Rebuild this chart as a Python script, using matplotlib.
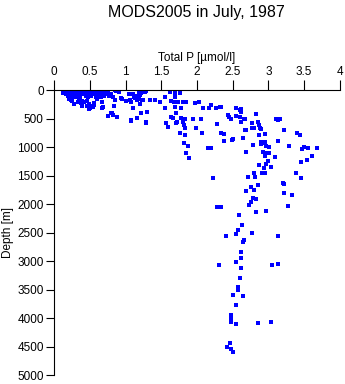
import matplotlib
matplotlib.use("Agg")
import matplotlib.pyplot as plt

plt.rcParams["font.family"] = ["Liberation Sans", "DejaVu Sans"]

TITLE = "MODS2005 in July, 1987"
XLABEL = "Total P [\u00b5mol/l]"
YLABEL = "Depth [m]"

x_ticks = [0, 0.5, 1, 1.5, 2, 2.5, 3, 3.5, 4]
x_tick_labels = ["0", "0.5", "1", "1.5", "2", "2.5", "3", "3.5", "4"]
y_ticks = [0, 500, 1000, 1500, 2000, 2500, 3000, 3500, 4000, 4500, 5000]

# surface layer (0-125 m), densely sampled
surf_p = [0.15, 0.20, 0.25, 0.30, 0.35, 0.40, 0.45, 0.50, 0.55, 0.60, 0.65, 0.70, 0.75,
          0.18, 0.23, 0.28, 0.33, 0.38, 0.43, 0.48, 0.53, 0.58, 0.63, 0.68,
          0.14, 0.17, 0.22, 0.27, 0.32, 0.37, 0.42, 0.47, 0.52, 0.57, 0.62, 0.72,
          0.13, 0.19, 0.24, 0.29, 0.34, 0.39, 0.44, 0.49, 0.54, 0.59, 0.66, 0.74,
          0.16, 0.21, 0.26, 0.31, 0.41, 0.46, 0.51, 0.56, 0.61, 0.71, 0.80,
          0.20, 0.25, 0.33, 0.45, 0.52, 0.62, 0.69,
          0.23, 0.28, 0.36, 0.48, 0.58, 0.64]
surf_d = [0] * 13 + [10] * 11 + [25] * 12 + [50] * 12 + [75] * 11 + [100] * 7 + [125] * 6

# upper water column (roughly 0-800 m)
upper_p = [0.21, 0.25, 0.28, 0.35, 0.39, 0.42, 0.46, 0.49, 0.39, 0.46, 0.51, 0.49,
           0.56, 0.55, 0.67, 0.67, 0.84, 0.86, 0.91, 0.95, 1.00, 1.05, 1.07, 1.11,
           1.20, 1.30, 1.21, 1.16, 1.08, 1.29, 0.81, 0.88, 0.77, 0.79, 1.12, 1.14,
           1.19, 1.23, 1.28, 1.19, 1.23, 0.60, 0.65, 0.70,
           0.85, 0.90, 0.83, 0.85, 0.75, 0.80, 0.83, 0.68, 0.56, 0.47, 0.50, 0.38,
           0.30, 0.34, 0.24, 0.22,
           1.11, 1.13, 1.20, 1.22, 1.27, 0.94, 1.06, 1.16, 1.25, 1.34, 1.41,
           1.62, 1.69, 1.76, 1.55, 1.69, 1.48, 1.64, 1.68, 1.74, 1.81, 1.84,
           1.55, 1.69, 1.78, 1.97, 2.03, 2.08, 2.17, 2.19, 2.27, 2.32, 2.34,
           2.44, 2.45, 2.55, 2.61, 2.62, 2.55, 2.60, 2.66, 2.47, 2.60,
           1.70, 1.64, 1.67, 1.78, 1.83, 1.95, 2.06, 1.72, 3.11, 3.16,
           1.08, 1.28, 1.57, 1.60, 1.71, 1.81, 1.82, 1.83, 1.76, 1.83, 1.99, 2.07,
           2.28, 2.33, 2.38, 2.51, 2.65, 2.69, 2.62, 2.77, 2.77, 2.86, 2.87, 2.88,
           2.80, 2.95, 2.87, 3.22, 3.14, 3.40, 3.44, 2.82, 2.67, 2.90, 2.67]
upper_d = [158, 188, 246, 158, 188, 216, 198, 246, 275, 275, 275, 333,
           263, 304, 316, 216, 275, 12, 40, 158, 188, 70, 216, 316,
           246, 391, 409, 496, 526, 567, 409, 468, 100, 70, 128, 100,
           40, 23, 23, 158, 175, 158, 128, 100,
           0, 0, 117, 175, 451, 409, 438, 304, 233, 280, 310, 233,
           117, 205, 175, 117,
           75, 146, 88, 58, 30, 146, 175, 175, 175, 175, 175,
           40, 58, 58, 117, 117, 216, 198, 216, 216, 216, 216,
           316, 293, 316, 233, 216, 316, 316, 258, 316, 293, 293,
           433, 479, 316, 333, 391, 461, 479, 509, 509, 351,
           409, 479, 496, 496, 509, 509, 509, 567, 514, 514,
           544, 574, 584, 644, 574, 556, 614, 672, 749, 789, 672, 759,
           596, 759, 777, 859, 847, 702, 556, 574, 672, 556, 614, 672,
           672, 772, 789, 702, 526, 759, 789, 421, 509, 680, 702]

# intermediate depths (roughly 850-1550 m)
mid_p = [2.38, 2.49, 2.16, 2.20, 2.90, 2.95, 2.93, 2.89, 2.97, 3.01, 2.79, 3.13,
         3.29, 3.50, 3.47, 3.55, 3.68, 2.69, 2.93, 2.95, 3.01, 2.95, 3.09, 3.61,
         3.54, 3.00, 3.45, 2.87, 2.96, 2.94, 3.03, 2.91, 2.95, 2.80, 3.38, 2.23,
         2.72, 2.81, 3.46, 1.82, 1.88, 1.85, 1.89]
mid_d = [889, 877, 1023, 1023, 907, 907, 935, 947, 982, 995, 965, 895,
         982, 995, 1035, 1023, 1023, 1093, 1082, 1110, 1100, 1152, 1170, 1158,
         1228, 1240, 1268, 1316, 1303, 1373, 1356, 1450, 1450, 1461, 1450, 1538,
         1521, 1531, 1538, 924, 982, 1110, 1187]

# deep water (below ~1600 m)
deep_p = [3.20, 3.22, 2.86, 2.75, 2.80, 2.68, 3.22, 3.33, 2.79, 2.82, 2.75, 2.73,
          2.28, 2.33, 3.27, 2.83, 2.96, 2.59, 2.63, 2.58, 2.54, 2.77, 2.41, 3.13,
          2.66, 2.65, 2.62, 2.61, 2.54, 2.31, 2.61, 3.05, 3.14, 2.60, 2.58, 2.58,
          2.51, 2.65, 2.55, 2.48, 2.48, 2.48, 2.55, 2.86, 3.03, 2.46, 2.42, 2.47,
          2.51]
deep_d = [1626, 1640, 1666, 1707, 1754, 1772, 1812, 1842, 1900, 1917, 1959, 2017,
          2045, 2050, 2040, 2140, 2122, 2198, 2373, 2456, 2520, 2513, 2561, 2556,
          2631, 2661, 2841, 2947, 3022, 3075, 3127, 3070, 3057, 3303, 3450, 3513,
          3596, 3613, 3776, 3947, 4011, 4069, 4104, 4082, 4069, 4443, 4513, 4548,
          4601]

total_p = surf_p + upper_p + mid_p + deep_p
depth = surf_d + upper_d + mid_d + deep_d

fig = plt.figure(figsize=(3.45, 3.84), dpi=100)
ax = fig.add_axes([0.157, 0.0234, 0.828, 0.742])

ax.plot(total_p, depth, linestyle="none", marker="s", markersize=2.5,
        markeredgewidth=0, color="#0000ff")

ax.set_xlim(0, 4)
ax.set_ylim(5000, 0)
ax.xaxis.tick_top()
ax.xaxis.set_label_position("top")
ax.set_xticks(x_ticks)
ax.set_xticklabels(x_tick_labels)
ax.set_yticks(y_ticks)
ax.tick_params(axis="x", direction="out", length=7, width=0.8, pad=2, labelsize=8.5)
ax.tick_params(axis="y", direction="out", length=5.5, width=0.8, pad=2, labelsize=8.5)
for side in ("right", "bottom"):
    ax.spines[side].set_visible(False)
for side in ("left", "top"):
    ax.spines[side].set_linewidth(0.8)

ax.set_xlabel(XLABEL, fontsize=8.5, labelpad=3)
ax.set_ylabel(YLABEL, fontsize=8.5, labelpad=2)
fig.text(0.57, 0.968, TITLE, ha="center", va="center", fontsize=11.5)

fig.savefig("out.png", dpi=100)
